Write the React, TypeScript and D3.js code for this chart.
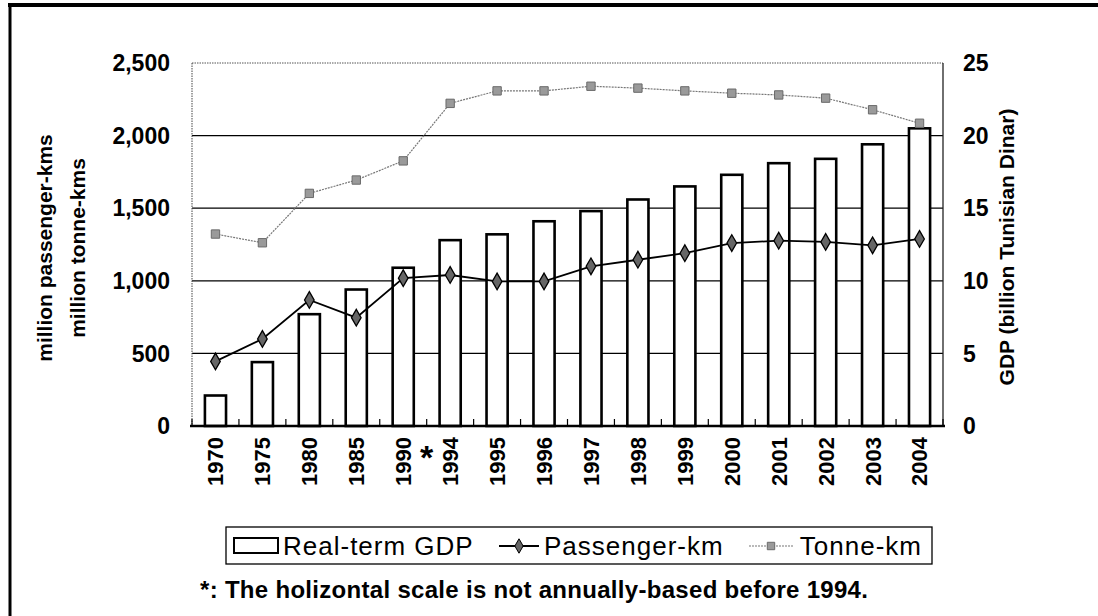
import React, { useEffect, useRef } from "react";
import * as d3 from "d3";

const years = ["1970", "1975", "1980", "1985", "1990", "1994", "1995", "1996", "1997", "1998", "1999", "2000", "2001", "2002", "2003", "2004"];
const gdp = [2.1, 4.4, 7.7, 9.4, 10.9, 12.8, 13.2, 14.1, 14.8, 15.6, 16.5, 17.3, 18.1, 18.4, 19.4, 20.5];
const passengerKm = [445, 600, 868, 746, 1018, 1040, 996, 996, 1100, 1145, 1190, 1260, 1276, 1268, 1244, 1288];
const tonneKm = [1322, 1262, 1602, 1694, 1826, 2222, 2308, 2308, 2340, 2327, 2308, 2292, 2280, 2258, 2178, 2085];
const leftTicks = [0, 500, 1000, 1500, 2000, 2500];
const rightTicks = [0, 5, 10, 15, 20, 25];

const FONT = "'Liberation Sans', Arial, sans-serif";

const App = () => {
  const ref = useRef<SVGSVGElement | null>(null);
  const width = 1098,
    height = 616;
  const left = 192,
    right = 943,
    top = 63,
    bottom = 426;

  useEffect(() => {
    const svg = d3.select(ref.current);
    svg.selectAll("*").remove();

    const x = d3
      .scaleBand()
      .domain(years)
      .range([left, right])
      .paddingInner(0.55)
      .paddingOuter(0.275);
    const yL = d3.scaleLinear().domain([0, 2500]).range([bottom, top]);
    const yR = d3.scaleLinear().domain([0, 25]).range([bottom, top]);
    const cx = (d: string) => (x(d) as number) + x.bandwidth() / 2;

    // outer frame (top and left edges only)
    svg.append("line").attr("x1", 8).attr("x2", width).attr("y1", 5).attr("y2", 5)
      .attr("stroke", "#000").attr("stroke-width", 4);
    svg.append("line").attr("x1", 10).attr("x2", 10).attr("y1", 5).attr("y2", height)
      .attr("stroke", "#000").attr("stroke-width", 3);

    // grid
    svg.append("g")
      .selectAll("line")
      .data(leftTicks.filter((t) => t > 0 && t < 2500))
      .enter()
      .append("line")
      .attr("x1", left).attr("x2", right)
      .attr("y1", (d) => yL(d)).attr("y2", (d) => yL(d))
      .attr("stroke", "#000").attr("stroke-width", 1.2);

    // plot frame
    svg.append("line").attr("x1", left).attr("x2", right).attr("y1", top).attr("y2", top)
      .attr("stroke", "#555").attr("stroke-dasharray", "1.5,1");
    svg.append("line").attr("x1", left).attr("x2", left).attr("y1", top).attr("y2", bottom)
      .attr("stroke", "#444").attr("stroke-dasharray", "1.5,1");
    svg.append("line").attr("x1", right).attr("x2", right).attr("y1", top).attr("y2", bottom)
      .attr("stroke", "#222").attr("stroke-width", 1.3);

    // bars
    svg.append("g")
      .selectAll("rect")
      .data(gdp)
      .enter()
      .append("rect")
      .attr("x", (d, i) => x(years[i]) as number)
      .attr("y", (d) => yR(d))
      .attr("width", x.bandwidth())
      .attr("height", (d) => bottom - yR(d))
      .attr("fill", "#fff")
      .attr("stroke", "#000")
      .attr("stroke-width", 2.6);

    // bottom axis
    svg.append("line").attr("x1", left - 2).attr("x2", right + 2).attr("y1", bottom).attr("y2", bottom)
      .attr("stroke", "#000").attr("stroke-width", 2.5);
    svg.append("g")
      .selectAll("line")
      .data(d3.range(years.length + 1))
      .enter()
      .append("line")
      .attr("x1", (i) => left + i * x.step())
      .attr("x2", (i) => left + i * x.step())
      .attr("y1", bottom)
      .attr("y2", bottom - 7)
      .attr("stroke", "#000")
      .attr("stroke-width", 1.2);

    // tonne-km line
    const tLine = d3.line<number>().x((d, i) => cx(years[i])).y((d) => yL(d));
    svg.append("path").attr("d", tLine(tonneKm)).attr("fill", "none")
      .attr("stroke", "#777").attr("stroke-width", 1.2).attr("stroke-dasharray", "2,1");
    svg.append("g")
      .selectAll("path")
      .data(tonneKm)
      .enter()
      .append("path")
      .attr("d", d3.symbol().type(d3.symbolSquare).size(70)())
      .attr("transform", (d, i) => `translate(${cx(years[i])},${yL(d)})`)
      .attr("fill", "#9a9a9a")
      .attr("stroke", "#6a6a6a")
      .attr("stroke-width", 1);

    // passenger-km line
    const pLine = d3.line<number>().x((d, i) => cx(years[i])).y((d) => yL(d));
    svg.append("path").attr("d", pLine(passengerKm)).attr("fill", "none")
      .attr("stroke", "#000").attr("stroke-width", 1.8);
    svg.append("g")
      .selectAll("path")
      .data(passengerKm)
      .enter()
      .append("path")
      .attr("d", d3.symbol().type(d3.symbolDiamond).size(80)())
      .attr("transform", (d, i) => `translate(${cx(years[i])},${yL(d)})`)
      .attr("fill", "#666")
      .attr("stroke", "#000")
      .attr("stroke-width", 1.3);

    // left tick labels
    svg.append("g")
      .selectAll("text")
      .data(leftTicks)
      .enter()
      .append("text")
      .attr("x", 170)
      .attr("y", (d) => yL(d))
      .attr("dy", "0.36em")
      .attr("text-anchor", "end")
      .style("font", `bold 23px ${FONT}`)
      .text((d) => d3.format(",")(d));

    // right tick labels
    svg.append("g")
      .selectAll("text")
      .data(rightTicks)
      .enter()
      .append("text")
      .attr("x", 963)
      .attr("y", (d) => yR(d))
      .attr("dy", "0.36em")
      .style("font", `bold 23px ${FONT}`)
      .text((d) => d);

    // x labels
    svg.append("g")
      .selectAll("text")
      .data(years)
      .enter()
      .append("text")
      .attr("transform", (d) => `translate(${cx(d)},437) rotate(-90)`)
      .attr("dy", "0.36em")
      .attr("text-anchor", "end")
      .style("font", `bold 22px ${FONT}`)
      .text((d) => d);
    svg.append("text")
      .attr("x", (cx("1990") + cx("1994")) / 2)
      .attr("y", 469)
      .attr("text-anchor", "middle")
      .style("font", `bold 34px ${FONT}`)
      .text("*");

    // axis titles
    svg.append("text")
      .attr("transform", `translate(52,248) rotate(-90)`)
      .attr("text-anchor", "middle")
      .style("font", `bold 21px ${FONT}`)
      .text("million passenger-kms");
    svg.append("text")
      .attr("transform", `translate(85,248) rotate(-90)`)
      .attr("text-anchor", "middle")
      .style("font", `bold 21px ${FONT}`)
      .text("million tonne-kms");
    svg.append("text")
      .attr("transform", `translate(1014,247) rotate(-90)`)
      .attr("text-anchor", "middle")
      .style("font", `bold 21px ${FONT}`)
      .text("GDP (billion Tunisian Dinar)");

    // legend
    const lg = svg.append("g");
    const legendFont = `26px ${FONT}`;
    lg.append("rect").attr("x", 226).attr("y", 527).attr("width", 706).attr("height", 37)
      .attr("fill", "#fff").attr("stroke", "#000").attr("stroke-width", 1.3);
    lg.append("rect").attr("x", 234).attr("y", 538).attr("width", 44).attr("height", 15)
      .attr("fill", "#fff").attr("stroke", "#000").attr("stroke-width", 2);
    lg.append("text").attr("x", 283).attr("y", 555).style("font", legendFont)
      .style("letter-spacing", "1px").text("Real-term GDP");
    lg.append("line").attr("x1", 499).attr("x2", 539).attr("y1", 546).attr("y2", 546)
      .attr("stroke", "#000").attr("stroke-width", 1.8);
    lg.append("path").attr("d", d3.symbol().type(d3.symbolDiamond).size(60)())
      .attr("transform", "translate(519,546)").attr("fill", "#666").attr("stroke", "#000");
    lg.append("text").attr("x", 544).attr("y", 555).style("font", legendFont)
      .style("letter-spacing", "1px").text("Passenger-km");
    lg.append("line").attr("x1", 749).attr("x2", 794).attr("y1", 546).attr("y2", 546)
      .attr("stroke", "#777").attr("stroke-width", 1.2).attr("stroke-dasharray", "2,1");
    lg.append("path").attr("d", d3.symbol().type(d3.symbolSquare).size(55)())
      .attr("transform", "translate(771,546)").attr("fill", "#9a9a9a").attr("stroke", "#6a6a6a");
    lg.append("text").attr("x", 922).attr("y", 555).attr("text-anchor", "end").style("font", legendFont)
      .style("letter-spacing", "1px").text("Tonne-km");

    // footnote
    svg.append("text")
      .attr("x", 200)
      .attr("y", 598)
      .style("font", `bold 24px ${FONT}`)
      .style("letter-spacing", "0.3px")
      .text("*: The holizontal scale is not annually-based before 1994.");
  }, []);

  return (
    <div style={{ position: "absolute", left: 0, top: 0 }}>
      <svg ref={ref} width={width} height={height} style={{ display: "block", background: "#fff" }} />
    </div>
  );
};

export default App;
